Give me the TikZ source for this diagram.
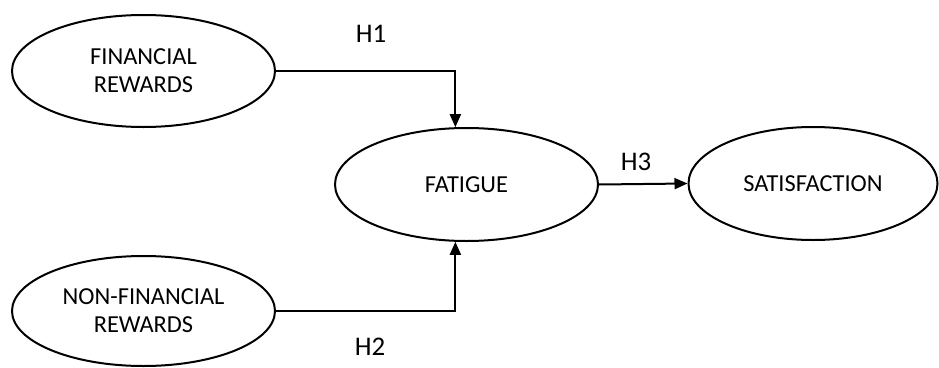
\documentclass[tikz,border=0pt]{standalone}
\usepackage{fontspec}
\setmainfont{Carlito}
\usetikzlibrary{shapes.geometric,arrows.meta}
\tikzset{
            construct/.style={draw,ellipse,inner sep=0pt,minimum width=263bp,minimum height=112bp,
                              align=center,font=\fontsize{24.5}{28}\selectfont},
            hyp/.style={inner sep=0pt,font=\fontsize{27}{30}\selectfont}
        }

\begin{document}
\begin{tikzpicture}[
                    x=1bp,y=1bp,
                    line width=2bp,
                    -{Triangle[length=13bp,width=11bp]}
                    ]
                \useasboundingbox (0,0) rectangle (939,367);
                \node[construct] (fin) at (143.5,296) {FINANCIAL\\REWARDS};
                \node[construct,minimum height=110bp] (nfin) at (143.5,56) {NON-FINANCIAL\\REWARDS};
                \node[construct,minimum height=113bp] (fat) at (466.5,182.5) {FATIGUE};
                \node[construct,minimum width=249bp,minimum height=113bp] (sat) at (813,183.5) {SATISFACTION};
                \node[hyp] (h1) at (371,333.5) {H1};
                \node[hyp] (h2) at (370,20.5) {H2};
                \node[hyp] (h3) at (636,205.5) {H3};
                \draw (fin.east) -| (fat.101);
                \draw (nfin.east) -| (fat.-101);
                \draw (fat.east) -- (sat.west);
            \end{tikzpicture}
\end{document}
